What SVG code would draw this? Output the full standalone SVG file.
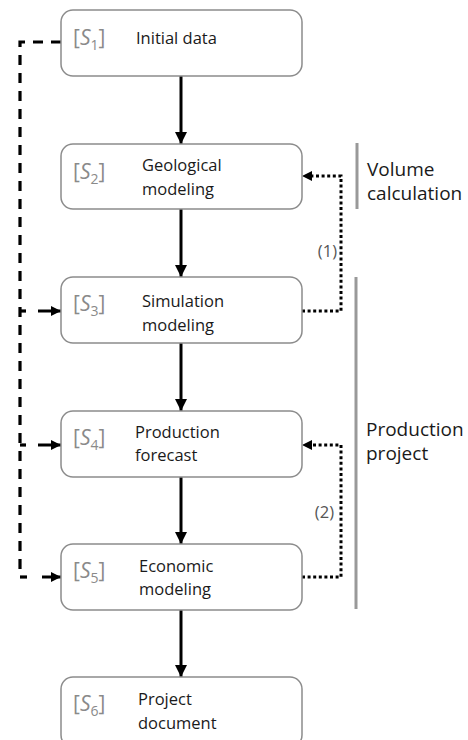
<svg xmlns="http://www.w3.org/2000/svg" width="468" height="740" viewBox="0 0 468 740">
<style>
.box{fill:#fff;stroke:#8c8c8c;stroke-width:1.5}
.t{font-family:"Open Sans","Noto Sans",sans-serif;font-size:16.5px;fill:#1a1a1a}
.s{font-family:"Open Sans","Noto Sans",sans-serif;font-size:21px;fill:#8a8a8a}
.sub{font-size:14px}
.lab{font-family:"Open Sans","Noto Sans",sans-serif;font-size:19px;fill:#1a1a1a}
.num{font-family:"Open Sans","Noto Sans",sans-serif;font-size:16.5px;fill:#555}
.solid{fill:none;stroke:#000;stroke-width:3}
.dash{fill:none;stroke:#000;stroke-width:3.2}
.dot{fill:none;stroke:#000;stroke-width:3;stroke-dasharray:3 2.6}
.bar{stroke:#999;stroke-width:3}
</style>
<defs>
<marker id="ah" viewBox="0 0 12 12" refX="12" refY="6" markerWidth="12" markerHeight="12" markerUnits="userSpaceOnUse" orient="auto">
<path d="M0,0 L12,6 L0,12 Z" fill="#000"/>
</marker>
<marker id="ahs" viewBox="0 0 10 10" refX="10" refY="5" markerWidth="10" markerHeight="10" markerUnits="userSpaceOnUse" orient="auto">
<path d="M0,0 L10,5 L0,10 Z" fill="#000"/>
</marker>
</defs>
<g id="connectors">
<path class="solid" d="M181,76 V144" marker-end="url(#ah)"/>
<path class="solid" d="M181,209 V277" marker-end="url(#ah)"/>
<path class="solid" d="M181,343 V411" marker-end="url(#ah)"/>
<path class="solid" d="M181,477 V544" marker-end="url(#ah)"/>
<path class="solid" d="M181,610 V677" marker-end="url(#ah)"/>
<path class="dash" d="M61,42 H20 V577" stroke-dasharray="10 8"/>
<path class="dash" d="M20,577 H27"/>
<path class="dash" d="M20,311 H26"/>
<path class="dash" d="M20,445 H26"/>
<path class="solid" d="M38,311 H61" marker-end="url(#ahs)"/>
<path class="solid" d="M38,445 H61" marker-end="url(#ahs)"/>
<path class="solid" d="M42,577 H61" marker-end="url(#ahs)"/>
<path class="dot" d="M302,311 H341 V176 H312"/>
<path d="M302,176 L312,171 L312,181 Z" fill="#000"/>
<path class="dot" d="M302,577 H341 V445 H312"/>
<path d="M302,445 L312,440 L312,450 Z" fill="#000"/>
<text class="num" x="337" y="257" text-anchor="end">(1)</text>
<text class="num" x="334" y="518" text-anchor="end">(2)</text>
</g>
<g id="n1">
<rect class="box" x="61" y="10" width="241" height="66" rx="12"/>
<text class="s" x="73" y="45">[<tspan font-style="italic">S</tspan><tspan class="sub" dy="5">1</tspan><tspan dy="-5">]</tspan></text>
<text class="t" x="136" y="44">Initial data</text>
</g>
<g id="n2">
<rect class="box" x="61" y="144" width="241" height="65" rx="12"/>
<text class="s" x="73" y="179">[<tspan font-style="italic">S</tspan><tspan class="sub" dy="5">2</tspan><tspan dy="-5">]</tspan></text>
<text class="t" x="142" y="171">Geological</text>
<text class="t" x="142" y="195">modeling</text>
</g>
<g id="n3">
<rect class="box" x="61" y="277" width="241" height="66" rx="12"/>
<text class="s" x="73" y="311">[<tspan font-style="italic">S</tspan><tspan class="sub" dy="5">3</tspan><tspan dy="-5">]</tspan></text>
<text class="t" x="142" y="307">Simulation</text>
<text class="t" x="142" y="331">modeling</text>
</g>
<g id="n4">
<rect class="box" x="61" y="411" width="241" height="66" rx="12"/>
<text class="s" x="73" y="445">[<tspan font-style="italic">S</tspan><tspan class="sub" dy="5">4</tspan><tspan dy="-5">]</tspan></text>
<text class="t" x="135" y="438">Production</text>
<text class="t" x="135" y="461">forecast</text>
</g>
<g id="n5">
<rect class="box" x="61" y="544" width="241" height="66" rx="12"/>
<text class="s" x="73" y="578">[<tspan font-style="italic">S</tspan><tspan class="sub" dy="5">5</tspan><tspan dy="-5">]</tspan></text>
<text class="t" x="139" y="572">Economic</text>
<text class="t" x="139" y="595">modeling</text>
</g>
<g id="n6">
<rect class="box" x="61" y="677" width="241" height="70" rx="12"/>
<text class="s" x="73" y="711">[<tspan font-style="italic">S</tspan><tspan class="sub" dy="5">6</tspan><tspan dy="-5">]</tspan></text>
<text class="t" x="138" y="705">Project</text>
<text class="t" x="138" y="729">document</text>
</g>
<g id="volume">
<line class="bar" x1="357" y1="143" x2="357" y2="209"/>
<text class="lab" x="367" y="176">Volume</text>
<text class="lab" x="367" y="200">calculation</text>
</g>
<g id="production">
<line class="bar" x1="356" y1="277" x2="356" y2="609"/>
<text class="lab" x="366" y="436">Production</text>
<text class="lab" x="366" y="460">project</text>
</g>
</svg>
